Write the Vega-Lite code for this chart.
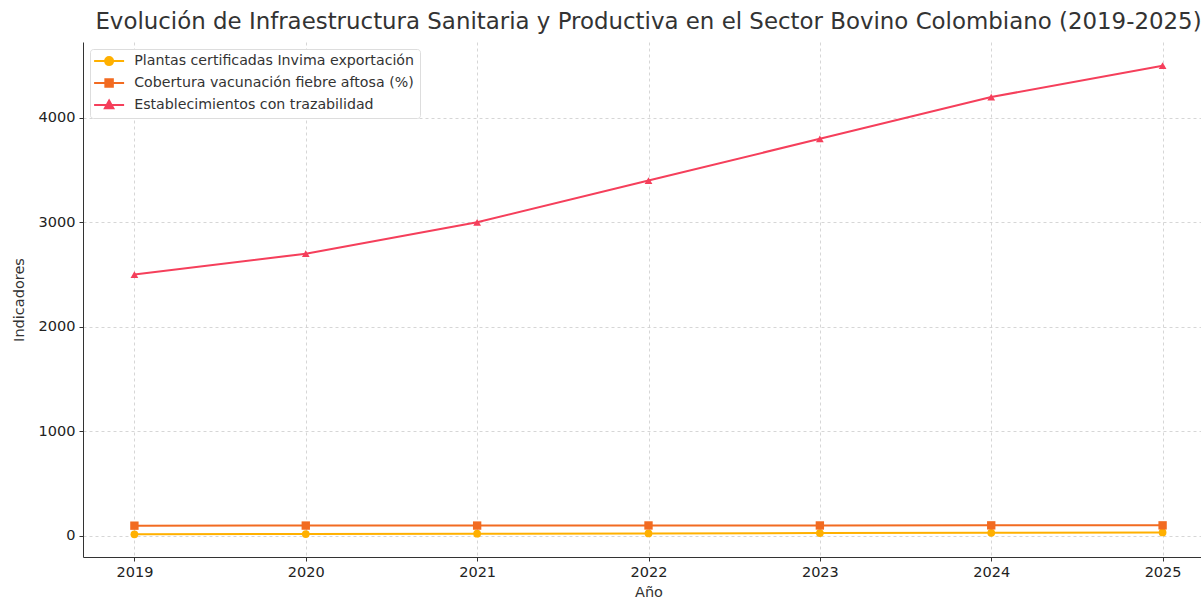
{
  "$schema": "https://vega.github.io/schema/vega-lite/v6.json",
  "autosize": "none",
  "width": 1131,
  "height": 515,
  "padding": {"left": 83, "top": 42, "right": 0, "bottom": 42},
  "background": "white",
  "title": {"text": "Evolución de Infraestructura Sanitaria y Productiva en el Sector Bovino Colombiano (2019-2025)", "font": "DejaVu Sans", "fontSize": 22.9, "fontWeight": "normal", "color": "#333333", "anchor": "middle", "offset": 8},
  "config": {
    "view": {"stroke": null},
    "axis": {"labelFont": "DejaVu Sans", "titleFont": "DejaVu Sans", "labelFontSize": 14.5, "titleFontSize": 14.5, "titleFontWeight": "normal", "labelColor": "#222222", "titleColor": "#333333", "domainColor": "#333333", "tickColor": "#333333", "gridColor": "#cccccc", "gridDash": [3, 3], "gridWidth": 0.8, "tickSize": 4}
  },
  "data": {"values": [
    {"anio": 2019, "serie": "Plantas certificadas Invima exportación", "valor": 12},
    {"anio": 2020, "serie": "Plantas certificadas Invima exportación", "valor": 15},
    {"anio": 2021, "serie": "Plantas certificadas Invima exportación", "valor": 18},
    {"anio": 2022, "serie": "Plantas certificadas Invima exportación", "valor": 21},
    {"anio": 2023, "serie": "Plantas certificadas Invima exportación", "valor": 24},
    {"anio": 2024, "serie": "Plantas certificadas Invima exportación", "valor": 27},
    {"anio": 2025, "serie": "Plantas certificadas Invima exportación", "valor": 30},
    {"anio": 2019, "serie": "Cobertura vacunación fiebre aftosa (%)", "valor": 95},
    {"anio": 2020, "serie": "Cobertura vacunación fiebre aftosa (%)", "valor": 96},
    {"anio": 2021, "serie": "Cobertura vacunación fiebre aftosa (%)", "valor": 96},
    {"anio": 2022, "serie": "Cobertura vacunación fiebre aftosa (%)", "valor": 97},
    {"anio": 2023, "serie": "Cobertura vacunación fiebre aftosa (%)", "valor": 97},
    {"anio": 2024, "serie": "Cobertura vacunación fiebre aftosa (%)", "valor": 98},
    {"anio": 2025, "serie": "Cobertura vacunación fiebre aftosa (%)", "valor": 98},
    {"anio": 2019, "serie": "Establecimientos con trazabilidad", "valor": 2500},
    {"anio": 2020, "serie": "Establecimientos con trazabilidad", "valor": 2700},
    {"anio": 2021, "serie": "Establecimientos con trazabilidad", "valor": 3000},
    {"anio": 2022, "serie": "Establecimientos con trazabilidad", "valor": 3400},
    {"anio": 2023, "serie": "Establecimientos con trazabilidad", "valor": 3800},
    {"anio": 2024, "serie": "Establecimientos con trazabilidad", "valor": 4200},
    {"anio": 2025, "serie": "Establecimientos con trazabilidad", "valor": 4500}
  ]},
  "encoding": {
    "x": {"field": "anio", "type": "quantitative", "title": "Año", "scale": {"domain": [2018.7, 2025.3], "nice": false, "zero": false}, "axis": {"values": [2019, 2020, 2021, 2022, 2023, 2024, 2025], "format": "d", "grid": true, "titlePadding": 7, "labelPadding": 4}},
    "y": {"field": "valor", "type": "quantitative", "title": "Indicadores", "scale": {"domain": [-205, 4727], "nice": false, "zero": false}, "axis": {"values": [0, 1000, 2000, 3000, 4000], "format": "d", "grid": true, "titlePadding": 12, "labelPadding": 4}},
    "color": {"field": "serie", "type": "nominal", "scale": {"domain": ["Plantas certificadas Invima exportación", "Cobertura vacunación fiebre aftosa (%)", "Establecimientos con trazabilidad"], "range": ["#FFB000", "#F26B21", "#F53F5B"]},
      "legend": {"title": null, "orient": "top-left", "offset": 7, "labelFont": "DejaVu Sans", "labelFontSize": 14.2, "labelLimit": 400, "labelColor": "#333333", "strokeColor": "#dddddd", "fillColor": "white", "padding": 5, "cornerRadius": 3, "rowPadding": 5, "symbolSize": 100, "symbolOffset": 7, "labelOffset": 18, "symbolStrokeWidth": 2,
        "encode": {"symbols": {"update": {
          "shape": {"signal": "datum.index == 0 ? 'M-3,0H3M0.8,0A0.8,0.8 0 1,1 -0.8,0A0.8,0.8 0 1,1 0.8,0Z' : datum.index == 1 ? 'M-3,0H3M-0.75,-0.75H0.75V0.75H-0.75Z' : 'M-3,0H3M0,-0.9L0.85,0.65H-0.85Z'"},
          "fill": {"signal": "datum.index == 0 ? '#FFB000' : datum.index == 1 ? '#F26B21' : '#F53F5B'"},
          "stroke": {"signal": "datum.index == 0 ? '#FFB000' : datum.index == 1 ? '#F26B21' : '#F53F5B'"},
          "strokeWidth": {"value": 2},
          "opacity": {"value": 1}}}}}}
  },
  "layer": [
    {"mark": {"type": "line", "strokeWidth": 2}},
    {"transform": [{"filter": "datum.serie == 'Plantas certificadas Invima exportación'"}],
     "mark": {"type": "point", "filled": true, "size": 60, "opacity": 1, "shape": "circle"}},
    {"transform": [{"filter": "datum.serie == 'Cobertura vacunación fiebre aftosa (%)'"}],
     "mark": {"type": "point", "filled": true, "size": 70, "opacity": 1, "shape": "square"}},
    {"transform": [{"filter": "datum.serie == 'Establecimientos con trazabilidad'"}],
     "mark": {"type": "point", "filled": true, "size": 60, "opacity": 1, "shape": "triangle-up"}}
  ]
}
